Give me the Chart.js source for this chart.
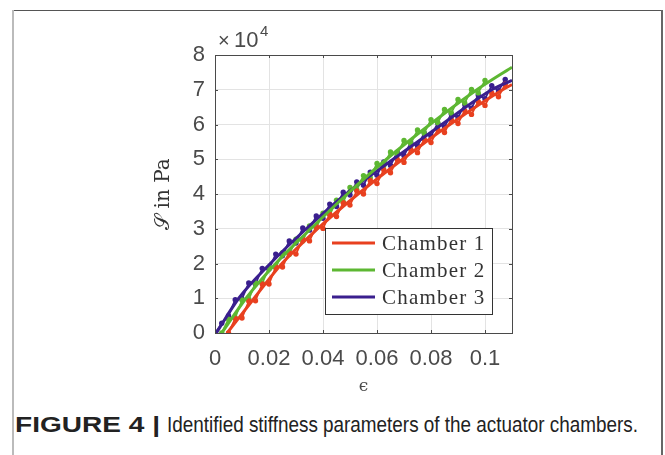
<!DOCTYPE html>
<html>
<head>
<meta charset="utf-8">
<script src="https://cdn.jsdelivr.net/npm/chart.js@4/dist/chart.umd.min.js"></script>
<style>
  body { margin: 0; background: #fff; width: 665px; height: 455px; overflow: hidden; position: relative; }
  #wrap { position: absolute; left: 0; top: 0; width: 665px; height: 400px; }
  .frame-top { position: absolute; left: 12px; top: 10px; width: 651px; height: 1px; background: #555; }
  .frame-left { position: absolute; left: 12px; top: 10px; width: 2px; height: 445px; background: #bbb; }
  .frame-right { position: absolute; left: 661px; top: 10px; width: 2px; height: 445px; background: #666; }
  .cap { position: absolute; top: 412px; font-family: "Liberation Sans", Arial, sans-serif; font-size: 22px; color: #222; white-space: nowrap; transform-origin: 0 50%; }
  #capBold { left: 15px; font-weight: bold; }
  #capText { left: 167px; }
</style>
</head>
<body>
<div class="frame-top"></div>
<div class="frame-left"></div>
<div class="frame-right"></div>
<div id="wrap"><canvas id="lineChart" width="665" height="400"></canvas></div>
<span class="cap" id="capBold">FIGURE 4 |</span>
<span class="cap" id="capText">Identified stiffness parameters of the actuator chambers.</span>
<script>
// Data (strain eps, S in units of 10^4 Pa)
const xTicks = [0, 0.02, 0.04, 0.06, 0.08, 0.1];
const yTicks = [0, 10000, 20000, 30000, 40000, 50000, 60000, 70000, 80000];
const names = ['Chamber 1', 'Chamber 2', 'Chamber 3'];
const colors = ['#e8401f', '#5db732', '#3a1f8e'];

// measured points
const epsRed = [0.005, 0.0075, 0.01, 0.0125, 0.015, 0.0175, 0.02, 0.0225, 0.025, 0.0275, 0.03, 0.0325, 0.035, 0.0375, 0.04, 0.0425, 0.045, 0.0475, 0.05, 0.0525, 0.055, 0.0575, 0.06, 0.0625, 0.065, 0.0675, 0.07, 0.0725, 0.075, 0.0775, 0.08, 0.0825, 0.085, 0.0875, 0.09, 0.0925, 0.095, 0.0975, 0.1, 0.1025, 0.105, 0.1075];
const measRed = [0.00, 0.42, 0.43, 0.92, 0.93, 1.41, 1.41, 1.90, 1.90, 2.32, 2.27, 2.70, 2.65, 3.07, 3.01, 3.42, 3.35, 3.75, 3.68, 4.09, 4.00, 4.39, 4.30, 4.70, 4.61, 5.00, 4.91, 5.29, 5.19, 5.58, 5.48, 5.86, 5.77, 6.15, 6.03, 6.40, 6.29, 6.66, 6.55, 6.91, 6.80, 7.16];

const epsGreen = [0.0025, 0.005, 0.0075, 0.01, 0.0125, 0.015, 0.0175, 0.02, 0.0225, 0.025, 0.0275, 0.03, 0.0325, 0.035, 0.0375, 0.04, 0.0425, 0.045, 0.0475, 0.05, 0.0525, 0.055, 0.0575, 0.06, 0.0625, 0.065, 0.0675, 0.07, 0.0725, 0.075, 0.0775, 0.08, 0.0825, 0.085, 0.0875, 0.09, 0.0925, 0.095, 0.0975, 0.1];
const measGreen = [0.00, 0.40, 0.44, 0.95, 0.97, 1.44, 1.43, 1.89, 1.88, 2.31, 2.26, 2.70, 2.65, 3.08, 3.03, 3.45, 3.40, 3.82, 3.77, 4.19, 4.12, 4.53, 4.47, 4.88, 4.81, 5.21, 5.15, 5.54, 5.45, 5.84, 5.75, 6.14, 6.05, 6.43, 6.33, 6.72, 6.62, 7.01, 6.91, 7.27];

const epsBlue = [0, 0.0025, 0.005, 0.0075, 0.01, 0.0125, 0.015, 0.0175, 0.02, 0.0225, 0.025, 0.0275, 0.03, 0.0325, 0.035, 0.0375, 0.04, 0.0425, 0.045, 0.0475, 0.05, 0.0525, 0.055, 0.0575, 0.06, 0.0625, 0.065, 0.0675, 0.07, 0.0725, 0.075, 0.0775, 0.08, 0.0825, 0.085, 0.0875, 0.09, 0.0925, 0.095, 0.0975, 0.1, 0.1025, 0.105, 0.1075];
const measBlue = [0.00, 0.28, 0.50, 0.96, 0.98, 1.44, 1.41, 1.86, 1.84, 2.27, 2.22, 2.65, 2.59, 3.02, 2.96, 3.37, 3.30, 3.71, 3.64, 4.05, 3.97, 4.35, 4.25, 4.63, 4.54, 4.92, 4.82, 5.20, 5.10, 5.48, 5.38, 5.76, 5.66, 6.04, 5.93, 6.31, 6.20, 6.58, 6.47, 6.85, 6.74, 7.12, 6.97, 7.30];

// identified (fitted) curves
const fitEpsRed = [0.0045, 0.0145, 0.0248, 0.038, 0.053, 0.0695, 0.087, 0.1065, 0.11];
const fitRed = [0, 1, 2, 3, 4, 5, 6, 7, 7.15];
const fitEpsGreen = [0.0025, 0.0115, 0.0225, 0.0355, 0.049, 0.0635, 0.0796, 0.097, 0.11];
const fitGreen = [0, 1, 2, 3, 4, 5, 6, 7, 7.65];
const fitEpsBlue = [0.0005, 0.0088, 0.0205, 0.0338, 0.0485, 0.066, 0.084, 0.1025, 0.11];
const fitBlue = [0, 1, 2, 3, 4, 5, 6, 7, 7.27];

const toPts = (xs, ys) => xs.map((x, i) => ({ x: x, y: ys[i] * 1e4 }));

const axisGray = '#4a4a4a';
const tickFont = { family: '"Liberation Sans", Arial, sans-serif', size: 22 };

// box, inner tick marks, x10^4 label and legend
const extras = {
  id: 'extras',
  afterDatasetsDraw(chart) {
    const { ctx, chartArea: a, scales } = chart;
    ctx.save();
    ctx.strokeStyle = axisGray;
    ctx.lineWidth = 1;
    ctx.beginPath();
    xTicks.forEach(v => {
      const px = Math.round(scales.x.getPixelForValue(v)) + 0.5;
      ctx.moveTo(px, a.bottom); ctx.lineTo(px, a.bottom - 3);
      ctx.moveTo(px, a.top); ctx.lineTo(px, a.top + 3);
    });
    yTicks.forEach(v => {
      const py = Math.round(scales.y.getPixelForValue(v)) + 0.5;
      ctx.moveTo(a.left, py); ctx.lineTo(a.left + 3, py);
      ctx.moveTo(a.right, py); ctx.lineTo(a.right - 3, py);
    });
    ctx.stroke();
    ctx.strokeRect(Math.round(a.left) + 0.5, Math.round(a.top) + 0.5, Math.round(a.right - a.left), Math.round(a.bottom - a.top));

    // exponent label
    ctx.fillStyle = axisGray;
    ctx.textBaseline = 'alphabetic';
    ctx.textAlign = 'left';
    ctx.font = '20px "Liberation Sans", Arial, sans-serif';
    ctx.fillText('\u00d7', a.left + 3, a.top - 8);
    ctx.font = '22px "Liberation Sans", Arial, sans-serif';
    ctx.fillText('10', a.left + 19, a.top - 8);
    ctx.font = '15px "Liberation Sans", Arial, sans-serif';
    ctx.fillText('4', a.left + 45, a.top - 19);

    // legend
    const lx = a.left + 110, ly = a.top + 173, lw = 167, lh = 86;
    ctx.fillStyle = '#fff';
    ctx.fillRect(lx, ly, lw, lh);
    ctx.strokeStyle = '#333';
    ctx.lineWidth = 1;
    ctx.strokeRect(lx + 0.5, ly + 0.5, lw, lh);
    ctx.font = '21px "Liberation Serif", "DejaVu Serif", serif';
    ctx.letterSpacing = '1.2px';
    ctx.textBaseline = 'middle';
    names.forEach((n, i) => {
      const y = ly + 15 + i * 27;
      ctx.strokeStyle = colors[i];
      ctx.lineWidth = 3;
      ctx.beginPath();
      ctx.moveTo(lx + 7, y); ctx.lineTo(lx + 50, y);
      ctx.stroke();
      ctx.fillStyle = '#333';
      ctx.fillText(n, lx + 57, y + 1);
    });
    ctx.restore();
  }
};

const measured = (xs, ys, c) => ({
  data: toPts(xs, ys),
  borderColor: c,
  backgroundColor: c,
  borderWidth: 1.8,
  pointRadius: 2.7,
  pointBorderWidth: 0,
  pointBackgroundColor: c,
  order: 2
});
const fitted = (xs, ys, c) => ({
  data: toPts(xs, ys),
  borderColor: c,
  backgroundColor: c,
  borderWidth: 3,
  pointRadius: 0,
  cubicInterpolationMode: 'monotone',
  order: 1
});

const ctx = document.getElementById('lineChart').getContext('2d');
new Chart(ctx, {
  type: 'line',
  data: {
    datasets: [
      measured(epsRed, measRed, colors[0]),
      measured(epsGreen, measGreen, colors[1]),
      measured(epsBlue, measBlue, colors[2]),
      fitted(fitEpsRed, fitRed, colors[0]),
      fitted(fitEpsGreen, fitGreen, colors[1]),
      fitted(fitEpsBlue, fitBlue, colors[2])
    ]
  },
  options: {
    responsive: false,
    animation: false,
    layout: { padding: { left: 0, right: 153, top: 55, bottom: 0 } },
    plugins: { legend: { display: false }, tooltip: { enabled: false } },
    scales: {
      x: {
        type: 'linear',
        min: 0,
        max: 0.11,
        afterBuildTicks: s => { s.ticks = xTicks.map(v => ({ value: v })); },
        afterFit: s => { s.height = 67; },
        grid: { color: '#e3e3e3', drawTicks: false },
        border: { display: false },
        ticks: { color: axisGray, font: tickFont, padding: 13, maxRotation: 0, callback: v => String(v) },
        title: { display: true, text: '\u03f5', color: axisGray, font: { family: '"DejaVu Serif", serif', size: 17 }, padding: { top: 0, bottom: 3 } }
      },
      y: {
        min: 0,
        max: 80000,
        afterBuildTicks: s => { s.ticks = yTicks.map(v => ({ value: v })); },
        afterFit: s => { s.width = 215; },
        grid: { color: '#e3e3e3', drawTicks: false },
        border: { display: false },
        ticks: { color: axisGray, font: tickFont, padding: 10, callback: v => String(v / 1e4) },
        title: { display: true, text: '\ud835\udcae in Pa', color: '#333', font: { family: '"DejaVu Serif", "Liberation Serif", serif', size: 20 }, padding: { top: 152, bottom: 0 } }
      }
    }
  },
  plugins: [extras]
});

// fit the caption pieces to the widths seen in the figure
[['capBold', 145], ['capText', 471]].forEach(([id, w]) => {
  const el = document.getElementById(id);
  el.style.transform = 'scaleX(' + (w / el.getBoundingClientRect().width) + ')';
});
</script>
</body>
</html>
